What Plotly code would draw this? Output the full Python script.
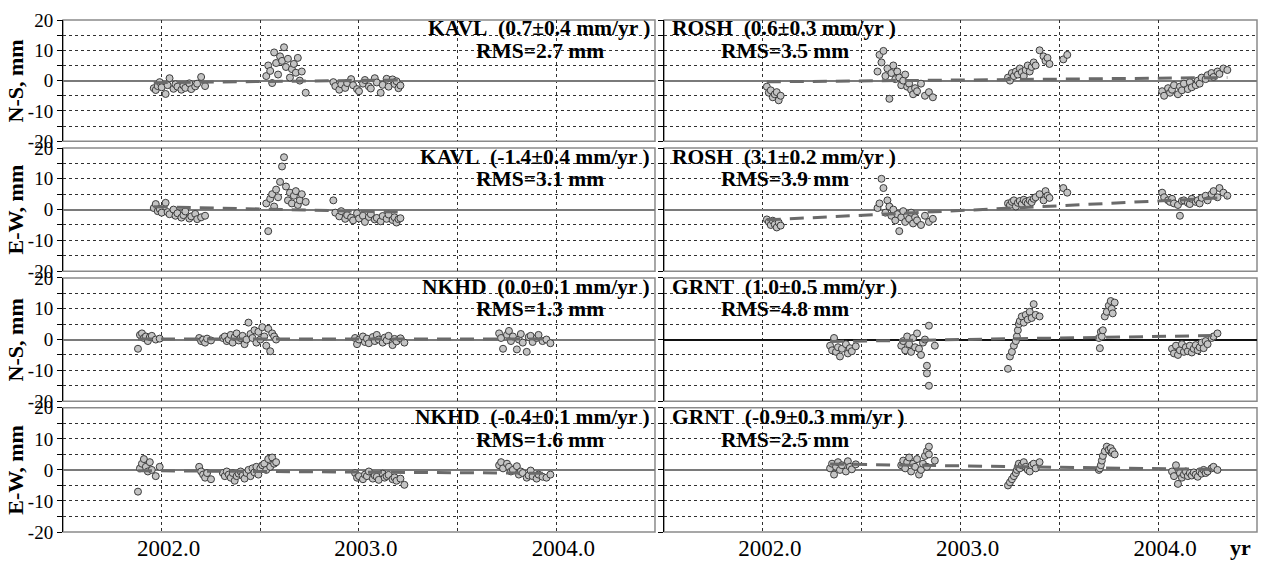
import plotly.graph_objects as go

# ---------------------------------------------------------------------------
# Daily GPS coordinate residuals (mm) against decimal-year epochs.
# N-S and E-W components of one station share the same epochs.
# ---------------------------------------------------------------------------
KAVL_T = [2001.96, 2001.97, 2001.98, 2001.99, 2002.00, 2002.02, 2002.03, 2002.04, 2002.06, 2002.07,
          2002.08, 2002.10, 2002.11, 2002.12, 2002.14, 2002.15, 2002.17, 2002.18, 2002.20, 2002.22,
          2002.53, 2002.54, 2002.55, 2002.56, 2002.57, 2002.58, 2002.59, 2002.60, 2002.61, 2002.62,
          2002.63, 2002.64, 2002.65, 2002.66, 2002.67, 2002.68, 2002.69, 2002.70, 2002.71, 2002.73,
          2002.87, 2002.88, 2002.90, 2002.91, 2002.93, 2002.94, 2002.96, 2002.97, 2002.99, 2003.00,
          2003.02, 2003.03, 2003.05, 2003.06, 2003.08, 2003.09, 2003.11, 2003.12, 2003.14, 2003.15,
          2003.17, 2003.18, 2003.19, 2003.20, 2003.21]
KAVL_NS = [-2.5, -3.1, -1.8, -0.5, -2.2, -4.4, -1.5, 0.8, -2.7, -1.2,
           -2.0, -3.0, -1.6, -2.4, -0.9, -2.8, -1.9, -1.0, 1.2, -1.8,
           1.5, 5.0, 3.2, -0.8, 9.3, 5.8, 2.0, 8.0, 6.5, 11.0,
           4.5, 7.2, 1.0, 3.8, 5.5, 2.6, 7.5, 0.0, 3.0, -4.0,
           -0.5, -1.8, -3.0, -1.2, -2.4, -0.8, 0.5, -1.5, -2.8, -3.5,
           -1.0, 0.2, -1.9, -2.6, 0.8, -0.6, -4.0, -1.4, 0.6, -2.0,
           0.4, -1.1, -0.2, -2.5, -1.6]
KAVL_EW = [0.5, 1.8, -0.5, 0.2, -1.0, 2.2, -0.8, -1.5, 0.0, -2.0,
           -1.2, -2.6, -1.8, -0.6, -2.9, -2.2, -1.4, -3.1, -2.5, -2.0,
           2.0, -7.0, 3.5, 5.0, 1.0, 6.5, 4.0, 9.0, 14.0, 17.0,
           7.5, 3.0, 5.5, 2.0, 4.5, 6.0, 1.5, 3.0, 5.0, 2.5,
           3.0, -1.0, -2.2, -0.5, -3.0, -1.8, -2.6, -3.5, -1.2, -2.9,
           -2.0, -4.0, -2.4, -1.5, -3.2, -2.7, -3.8, -2.1, -3.0, -1.6,
           -3.4, -2.5, -4.2, -3.1, -2.8]

ROSH_T = [2002.02, 2002.03, 2002.04, 2002.05, 2002.06, 2002.07, 2002.08, 2002.09,
          2002.58, 2002.59, 2002.60, 2002.61, 2002.62, 2002.63, 2002.64, 2002.65, 2002.66, 2002.67,
          2002.68, 2002.69, 2002.70, 2002.71, 2002.72, 2002.73, 2002.74, 2002.75, 2002.76, 2002.77,
          2002.78, 2002.80, 2002.82, 2002.84, 2002.86,
          2003.24, 2003.25, 2003.26, 2003.27, 2003.28, 2003.29, 2003.30, 2003.31, 2003.32, 2003.33,
          2003.34, 2003.35, 2003.36, 2003.37, 2003.38, 2003.40, 2003.42, 2003.43, 2003.44, 2003.45,
          2003.52, 2003.54,
          2004.02, 2004.03, 2004.05, 2004.06, 2004.07, 2004.08, 2004.10, 2004.11, 2004.12, 2004.13,
          2004.15, 2004.16, 2004.17, 2004.19, 2004.20, 2004.21, 2004.22, 2004.24, 2004.25, 2004.27,
          2004.28, 2004.30, 2004.31, 2004.33, 2004.35]
ROSH_NS = [-2.0, -4.0, -3.2, -5.5, -4.5, -3.8, -6.5, -5.0,
           3.0, 8.5, 6.0, 9.8, 1.5, 4.0, -6.0, 2.5, 5.0, 0.5,
           3.0, 1.0, -1.5, 0.0, 2.0, -2.0, -1.0, -3.0, -4.5, -2.5,
           -3.5, -1.0, -5.0, -3.8, -5.5,
           1.0, 0.0, 2.5, 1.5, 3.0, 2.0, 4.0, 2.8, 1.5, 3.5,
           5.0, 3.0, 4.5, 6.0, 5.0, 10.0, 8.0, 6.5, 7.5, 5.5,
           7.0, 8.5,
           -3.5, -5.0, -2.5, -4.0, -3.0, -1.5, -4.5, -2.0, -3.2, -1.0,
           -2.8, -0.5, -2.2, -1.5, 0.0, -1.0, 1.0, 0.5, 1.8, 2.5,
           1.2, 3.0, 2.2, 4.0, 3.5]
ROSH_EW = [-3.2, -4.0, -5.0, -3.6, -4.8, -5.8, -4.2, -5.2,
           0.5, 2.0, 10.0, 7.0, -1.0, 3.0, 1.0, -2.0, 0.0, -3.5,
           -1.5, -7.0, -2.5, -0.5, -4.0, -2.0, -3.0, -1.0, -4.5, -2.5,
           -3.5, -5.0, -2.0, -4.0, -3.0,
           2.0, 1.5, 2.5, 3.0, 1.0, 2.2, 2.8, 1.8, 3.2, 2.5,
           2.0, 3.0, 2.4, 3.5, 4.0, 5.0, 3.0, 6.0, 4.5, 3.8,
           7.0, 5.5,
           5.5, 4.0, 3.0, 2.5, 3.5, 2.0, 1.5, -2.0, 2.8, 3.0,
           2.2, 1.8, 3.5, 2.5, 3.0, 2.0, 3.8, 4.5, 3.0, 5.0,
           6.0, 4.0, 7.0, 5.5, 4.5]

NKHD_T = [2001.88, 2001.89, 2001.90, 2001.91, 2001.92, 2001.93, 2001.94, 2001.95, 2001.97, 2001.99,
          2002.19, 2002.20, 2002.21, 2002.22, 2002.23, 2002.25,
          2002.31, 2002.32, 2002.33, 2002.34, 2002.35, 2002.36, 2002.37, 2002.38, 2002.39, 2002.40,
          2002.41, 2002.42, 2002.43, 2002.44, 2002.45, 2002.46, 2002.47, 2002.48, 2002.49, 2002.50,
          2002.51, 2002.52, 2002.53, 2002.54, 2002.55, 2002.56, 2002.57, 2002.58,
          2002.98, 2002.99, 2003.00, 2003.02, 2003.03, 2003.04, 2003.05, 2003.07, 2003.08, 2003.09,
          2003.10, 2003.12, 2003.13, 2003.14, 2003.15, 2003.17, 2003.18, 2003.19, 2003.21, 2003.23,
          2003.71, 2003.72, 2003.73, 2003.75, 2003.76, 2003.77, 2003.78, 2003.80, 2003.81, 2003.82,
          2003.83, 2003.85, 2003.86, 2003.87, 2003.88, 2003.90, 2003.91, 2003.93, 2003.95, 2003.97]
NKHD_NS = [-3.0, 1.5, 2.0, 0.5, 1.0, -0.5, 0.8, 1.2, 0.0, 0.3,
           0.5, -0.5, 0.0, -1.0, 0.3, -0.3,
           0.5, 1.0, -0.5, 0.0, 1.5, -1.0, 0.8, 2.0, -0.3, 0.5,
           1.2, -1.5, 0.0, 5.5, 1.8, 0.5, 3.0, -1.0, 2.5, 0.0,
           4.0, 1.0, -2.0, 3.5, -3.8, 2.0, 1.0, 0.0,
           0.5, -1.5, 0.0, 1.0, -0.8, 0.3, -1.2, 0.8, -0.5, 1.5,
           0.0, -1.0, 0.6, -0.3, 1.2, -1.8, 0.2, -0.6, 0.4, -1.0,
           2.0, 0.5, -3.0, 1.5, 2.8, -0.5, 1.0, -3.2, 0.0, 1.8,
           -1.0, -4.0, 0.8, 1.2, -0.8, 0.5, 1.5, -0.5, 0.0, -1.2]
NKHD_EW = [-7.0, 0.5, 2.0, 3.5, 1.0, -0.5, 2.5, 0.0, -2.0, 1.0,
           1.0, -0.5, -1.5, -2.5, -1.0, -3.0,
           -1.0, -2.0, -0.5, -1.5, -2.5, -1.0, -3.5, -2.0, -1.2, -0.5,
           -1.8, -2.8, -1.0, 0.0, -2.0, 0.5, -0.8, 1.0, -1.5, 0.5,
           1.5, 2.0, 0.0, 3.5, 1.0, 4.0, 2.0, 2.5,
           -1.0, -2.5, -2.0, -3.0, -1.5, -2.0, -0.5, -2.8, -1.8, -2.2,
           -3.2, -1.2, -2.5, -2.0, -1.6, -3.0, -2.4, -3.5, -2.8, -4.8,
           1.5, 2.5, 0.5, 2.0, 1.0, -0.5, 0.0, 1.2, -1.5, -0.5,
           -1.0, -2.5, -1.8, -0.2, -2.0, -2.8, -1.5, -2.2, -2.5, -1.5]

GRNT_T = [2002.34, 2002.35, 2002.36, 2002.37, 2002.38, 2002.39, 2002.40, 2002.42, 2002.43, 2002.44,
          2002.45, 2002.47,
          2002.70, 2002.71, 2002.72, 2002.73, 2002.74, 2002.75, 2002.76, 2002.77, 2002.78, 2002.79,
          2002.80, 2002.81, 2002.82, 2002.83, 2002.83, 2002.84, 2002.84, 2002.87,
          2003.24, 2003.25, 2003.26, 2003.27, 2003.28, 2003.285, 2003.29, 2003.295, 2003.30, 2003.31,
          2003.32, 2003.33, 2003.34, 2003.35, 2003.36, 2003.37, 2003.38, 2003.40,
          2003.70, 2003.705, 2003.71, 2003.715, 2003.72, 2003.73, 2003.74, 2003.75, 2003.76, 2003.765,
          2003.77, 2003.78,
          2004.07, 2004.08, 2004.09, 2004.10, 2004.11, 2004.12, 2004.13, 2004.14, 2004.15, 2004.16,
          2004.17, 2004.18, 2004.19, 2004.20, 2004.21, 2004.22, 2004.23, 2004.24, 2004.25, 2004.27,
          2004.28, 2004.30]
GRNT_NS = [-2.0, -3.5, 0.5, -4.0, -2.5, -5.5, -3.0, -1.5, -4.5, -2.8,
           -3.8, -2.2,
           -2.0, -0.5, -3.5, 1.0, -1.5, -4.0, 0.5, -2.5, 2.0, -3.0,
           -5.0, -1.0, 0.0, -8.5, -11.0, 4.5, -15.0, -2.0,
           -9.5, -5.5, -4.0, -2.0, -0.5, 1.0, 3.0, 5.0, 6.0, 7.5,
           5.5, 8.0, 6.5, 9.0, 7.0, 11.5, 8.0, 7.5,
           0.5, -2.8, 2.5, 1.0, 3.0, 7.5, 9.0, 11.0, 12.5, 10.0,
           8.5, 12.0,
           -3.0, -4.5, -2.0, -5.0, -3.5, -1.5, -4.0, -2.5, -3.8, -2.0,
           -4.2, -3.0, -1.8, -3.5, -2.5, -1.0, -2.8, -0.5, -1.5, 0.5,
           1.0, 2.0]
GRNT_EW = [0.5, 2.0, -1.5, 1.0, 2.5, 0.0, 1.5, -0.5, 2.8, 1.0,
           0.2, 1.8,
           1.5, 3.0, 0.5, 2.5, 4.0, -0.5, 2.0, 1.0, 3.5, -1.5,
           0.0, 2.0, 4.5, 6.0, 1.0, 7.5, 5.0, 3.0,
           -5.0, -4.0, -3.0, -2.0, -1.0, 0.0, 1.0, 2.0, 0.5, 1.5,
           2.5, 1.0, 0.0, -0.5, 1.5, 2.0, 0.5, 2.5,
           0.0, 0.5, 1.5, 3.0, 4.5, 6.0, 7.5, 6.5, 7.0, 5.5,
           6.0, 5.0,
           -0.5, -2.0, 1.5, -4.5, -1.0, -2.5, -1.5, -0.5, -2.0, -1.0,
           -1.8, -0.8, -1.5, -2.2, -0.5, -1.2, 0.0, -1.0, -0.5, 0.5,
           1.0, 0.0]

# Velocity estimates (mm/yr), their uncertainties and residual RMS (mm)
STATIONS = ["KAVL", "KAVL", "ROSH", "ROSH", "NKHD", "NKHD", "GRNT", "GRNT"]
COMPONENTS = ["N-S", "E-W", "N-S", "E-W", "N-S", "E-W", "N-S", "E-W"]
VELOCITY = [0.7, -1.4, 0.6, 3.1, 0.0, -0.4, 1.0, -0.9]
VEL_ERROR = [0.4, 0.4, 0.3, 0.2, 0.1, 0.1, 0.5, 0.3]
RMS = [2.7, 3.1, 3.5, 3.9, 1.3, 1.6, 4.8, 2.5]
# trend value (mm) at the reference epoch
TREND_AT_REF = [0.05, -0.5, 0.2, -0.3, 0.2, -0.7, 0.0, 1.3]
REF_EPOCH = 2003.0

SERIES = [(KAVL_T, KAVL_NS), (KAVL_T, KAVL_EW), (ROSH_T, ROSH_NS), (ROSH_T, ROSH_EW),
          (NKHD_T, NKHD_NS), (NKHD_T, NKHD_EW), (GRNT_T, GRNT_NS), (GRNT_T, GRNT_EW)]

# grid position of each series: (row, column)
POSITION = [(0, 0), (1, 0), (0, 1), (1, 1), (2, 0), (3, 0), (2, 1), (3, 1)]

X_TICKS = [2002.0, 2002.5, 2003.0, 2003.5, 2004.0]
X_TICK_TEXT = ["2002.0", "", "2003.0", "", "2004.0"]
Y_TICKS = [-20, -15, -10, -5, 0, 5, 10, 15, 20]
Y_TICK_TEXT = ["-20", "", "-10", "", "0", "", "10", "", "20"]

FONT = "Liberation Serif"
GRID = "#303030"

for t, v in SERIES:
    assert len(t) == len(v)

fig = go.Figure()

# panel domains (fractions of the plotting area)
X_DOMAINS = [[0.0, 0.4958], [0.5034, 1.0]]
Y_DOMAINS = [[0.7632, 1.0], [0.5094, 0.75], [0.2556, 0.4962], [0.0, 0.2425]]

for i, ((t, v), (row, col)) in enumerate(zip(SERIES, POSITION)):
    n = row * 2 + col + 1
    xa = "x" if n == 1 else f"x{n}"
    ya = "y" if n == 1 else f"y{n}"

    fig.add_trace(go.Scatter(
        x=t, y=v, mode="markers", xaxis=xa, yaxis=ya, showlegend=False,
        marker=dict(size=7, color="#c4c4c4", line=dict(color="#3c3c3c", width=1)),
    ))

    t0, t1 = min(t), max(t)
    trend = [TREND_AT_REF[i] + VELOCITY[i] * (tt - REF_EPOCH) for tt in (t0, t1)]
    fig.add_trace(go.Scatter(
        x=[t0, t1], y=trend, mode="lines", xaxis=xa, yaxis=ya, showlegend=False,
        line=dict(color="#6a6a6a", width=3, dash="14px,9px"),
    ))

    bottom = row == 3
    fig.layout[f"xaxis{n}"] = dict(
        domain=X_DOMAINS[col], anchor=ya, range=[2001.5, 2004.5],
        tickvals=X_TICKS, ticktext=X_TICK_TEXT, showticklabels=bottom,
        ticks="", ticklabelshift=7,
        showgrid=True, gridcolor=GRID, gridwidth=1, griddash="3px,3px",
        showline=False, zeroline=False,
        tickfont=dict(family=FONT, size=23, color="black"),
    )
    fig.layout[f"yaxis{n}"] = dict(
        domain=Y_DOMAINS[row], anchor=xa, range=[-20, 20],
        tickvals=Y_TICKS, ticktext=Y_TICK_TEXT, showticklabels=(col == 0),
        ticks="outside", ticklen=5, tickcolor="black",
        showgrid=True, gridcolor=GRID, gridwidth=1, griddash="3px,3px",
        zeroline=True, zerolinewidth=2,
        zerolinecolor="#111111" if i == 6 else "#7a7a7a",
        showline=True, linecolor="black", linewidth=1,
        tickfont=dict(family=FONT, size=19, color="black"),
    )

    # grey frame around the panel
    fig.add_shape(type="rect", xref=f"{xa} domain", yref=f"{ya} domain",
                  x0=0, x1=1, y0=0, y1=1, layer="below",
                  line=dict(color="#8a8a8a", width=1.5))

    title = f"<b>{STATIONS[i]}\u00a0 ({VELOCITY[i]:.1f}±{VEL_ERROR[i]:.1f} mm/yr )</b>"
    rms = f"<b>RMS={RMS[i]:.1f} mm</b>"
    if col == 0:
        fig.add_annotation(x=0.995, y=0.93, xref=f"{xa} domain", yref=f"{ya} domain",
                           text=title, showarrow=False, xanchor="right", yanchor="middle",
                           font=dict(family=FONT, size=21.5, color="black"))
        fig.add_annotation(x=0.806, y=0.745, xref=f"{xa} domain", yref=f"{ya} domain",
                           text=rms, showarrow=False, xanchor="center", yanchor="middle",
                           font=dict(family=FONT, size=21.5, color="black"))
    else:
        fig.add_annotation(x=0.01, y=0.93, xref=f"{xa} domain", yref=f"{ya} domain",
                           text=title, showarrow=False, xanchor="left", yanchor="middle",
                           font=dict(family=FONT, size=21.5, color="black"))
        fig.add_annotation(x=0.092, y=0.745, xref=f"{xa} domain", yref=f"{ya} domain",
                           text=rms, showarrow=False, xanchor="left", yanchor="middle",
                           font=dict(family=FONT, size=21.5, color="black"))

# component labels on the left
for row, label in enumerate(["N-S, mm", "E-W, mm", "N-S, mm", "E-W, mm"]):
    y0, y1 = Y_DOMAINS[row]
    fig.add_annotation(x=-0.0395, y=(y0 + y1) / 2, xref="paper", yref="paper",
                       text=f"<b>{label}</b>", textangle=-90, showarrow=False,
                       xanchor="center", yanchor="middle",
                       font=dict(family=FONT, size=22, color="black"))

# time-axis unit
fig.add_annotation(x=0.986, y=-0.031, xref="paper", yref="paper", text="<b>yr</b>",
                   showarrow=False, xanchor="center", yanchor="middle",
                   font=dict(family=FONT, size=22, color="black"))

fig.update_layout(
    width=1267, height=571,
    margin=dict(l=63, r=10, t=11, b=28),
    paper_bgcolor="white", plot_bgcolor="white",
    font=dict(family=FONT, color="black"),
)

fig.write_html("out.html")
